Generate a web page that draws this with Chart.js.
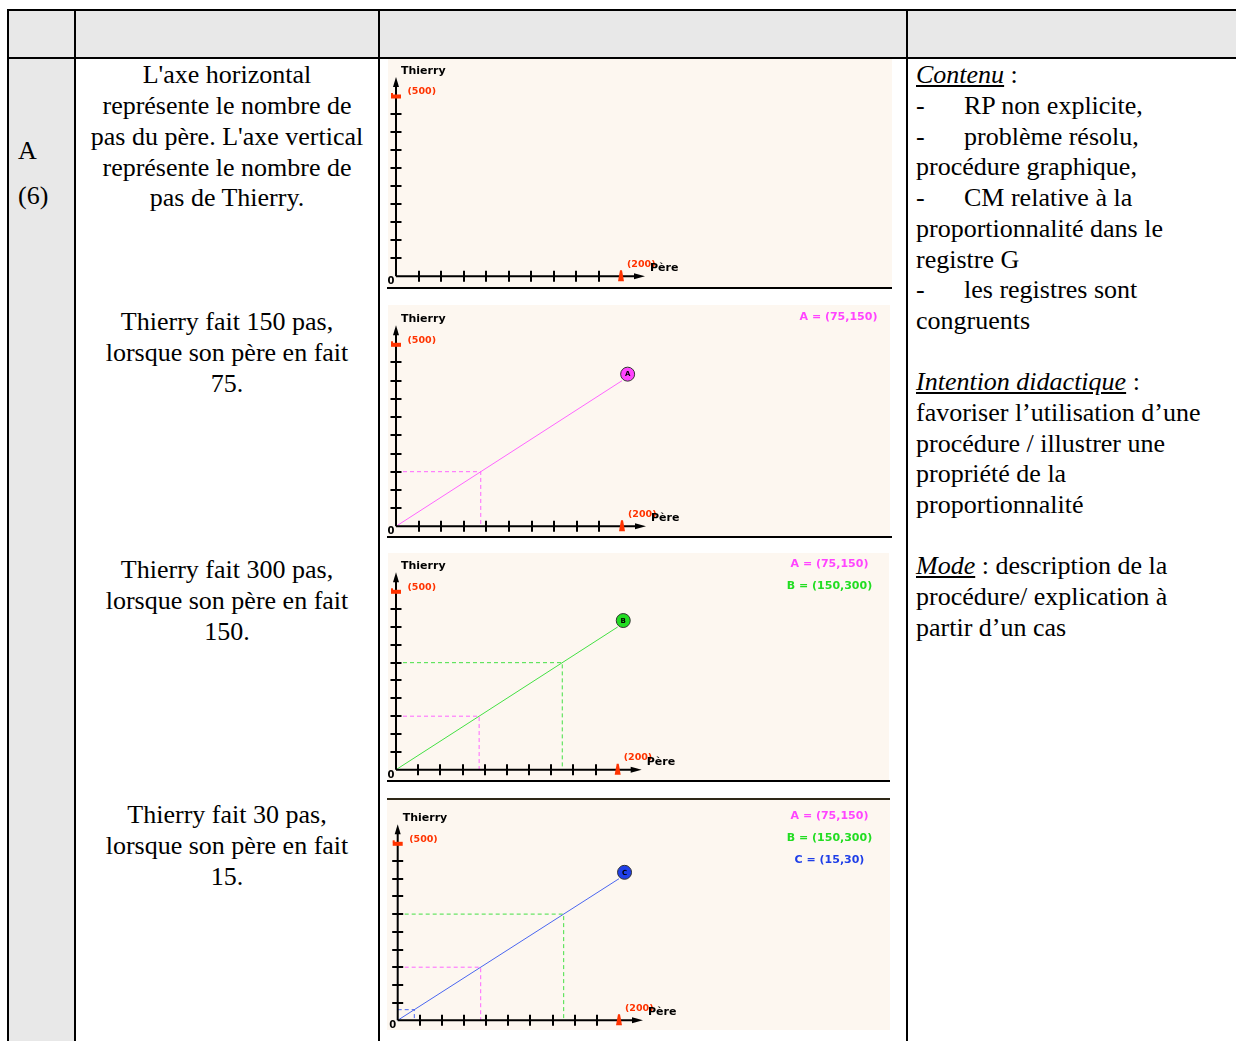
<!DOCTYPE html>
<html lang="fr">
<head>
<meta charset="utf-8">
<title>Thierry et son père</title>
<script src="https://cdn.jsdelivr.net/npm/chart.js@4.4.0/dist/chart.umd.min.js"></script>
<style>
  body { margin: 0; background: #fff; }
  #page { position: relative; width: 1236px; height: 1041px; overflow: hidden;
          font-family: "Liberation Serif", "Times New Roman", serif; font-size: 26px;
          line-height: 30.7px; color: #000; }
  .box { position: absolute; }
  .gris { background: #e8e8e8; }
  .noir { background: #000; }
  .txt { position: absolute; white-space: nowrap; }
  .centre { left: 76px; width: 302px; text-align: center; }
  .lig { position: relative; height: 30.7px; }
  .tab { position: absolute; left: 48px; }
  .souligne { font-style: italic; text-decoration: underline; }
  canvas { position: absolute; background: #fdf7f0; }
</style>
</head>
<body>
<div id="page">
  <!-- fonds gris : ligne d'en-tête + première colonne -->
  <div class="box gris" style="left:8px;top:10px;width:1228px;height:48px"></div>
  <div class="box gris" style="left:8px;top:58px;width:67px;height:983px"></div>

  <!-- bordures du tableau -->
  <div class="box noir" style="left:7px;top:9px;width:1229px;height:2px"></div>
  <div class="box noir" style="left:7px;top:57px;width:1229px;height:2px"></div>
  <div class="box noir" style="left:7px;top:9px;width:2px;height:1032px"></div>
  <div class="box noir" style="left:74px;top:9px;width:2px;height:1032px"></div>
  <div class="box noir" style="left:378px;top:9px;width:2px;height:1032px"></div>
  <div class="box noir" style="left:906px;top:9px;width:2px;height:1032px"></div>

  <!-- colonne 1 -->
  <div class="txt" style="left:18px;top:136px">A</div>
  <div class="txt" style="left:18px;top:181px">(6)</div>

  <!-- colonne 2 -->
  <div class="txt centre" style="top:60.4px">L'axe horizontal<br>représente le nombre de<br>pas du père. L'axe vertical<br>représente le nombre de<br>pas de Thierry.</div>
  <div class="txt centre" style="top:307.4px">Thierry fait 150 pas,<br>lorsque son père en fait<br>75.</div>
  <div class="txt centre" style="top:555.4px">Thierry fait 300 pas,<br>lorsque son père en fait<br>150.</div>
  <div class="txt centre" style="top:800.4px">Thierry fait 30 pas,<br>lorsque son père en fait<br>15.</div>

  <!-- colonne 3 : graphiques -->
  <canvas id="g0"></canvas>
  <canvas id="g1"></canvas>
  <canvas id="g2"></canvas>
  <canvas id="g3"></canvas>
  <div class="box noir" style="left:387px;top:287px;width:505px;height:2px"></div>
  <div class="box noir" style="left:387px;top:536px;width:505px;height:2px"></div>
  <div class="box noir" style="left:387px;top:780px;width:503px;height:2px"></div>
  <div class="box" style="left:387px;top:798px;width:503px;height:2px;background:#2e2818"></div>

  <!-- colonne 4 -->
  <div class="txt" style="left:916px;top:60.4px">
    <div class="lig"><span class="souligne">Contenu</span> :</div>
    <div class="lig">-<span class="tab">RP non explicite,</span></div>
    <div class="lig">-<span class="tab">problème résolu,</span></div>
    <div class="lig">procédure graphique,</div>
    <div class="lig">-<span class="tab">CM relative à la</span></div>
    <div class="lig">proportionnalité dans le</div>
    <div class="lig">registre G</div>
    <div class="lig">-<span class="tab">les registres sont</span></div>
    <div class="lig">congruents</div>
    <div class="lig"></div>
    <div class="lig"><span class="souligne">Intention didactique</span> :</div>
    <div class="lig">favoriser l’utilisation d’une</div>
    <div class="lig">procédure / illustrer une</div>
    <div class="lig">propriété de la</div>
    <div class="lig">proportionnalité</div>
    <div class="lig"></div>
    <div class="lig"><span class="souligne">Mode</span> : description de la</div>
    <div class="lig">procédure/ explication à</div>
    <div class="lig">partir d’un cas</div>
  </div>
</div>

<script>
// données
const xTicks = [20, 40, 60, 80, 100, 120, 140, 160, 180, 200];
const yTicks = [50, 100, 150, 200, 250, 300, 350, 400, 450, 500];
const xMax = 200;
const yMax = 500;
const pereSteps = [75, 150, 15];
const thierrySteps = [150, 300, 30];
const pointNames = ['A', 'B', 'C'];
const lineEnd = [200, 400];
const markerAt = [205, 418];
const shownPerPanel = [0, 1, 2, 3];

// couleurs
const labelColors = ['#ff44ff', '#22dd22', '#1f3fe8'];
const lineColors = ['#ff66ff', '#44e044', '#4a66f0'];
const rouge = '#ff3300';

// position de chaque petit graphique dans la page
const panels = [
    { id: 'g0', left: 388, top: 59,  w: 504, h: 228, ox: 8,    oy: 217.3, x200: 233,   y500: 37,   lx: 450, ly: 12 },
    { id: 'g1', left: 388, top: 305, w: 502, h: 231, ox: 7,    oy: 221.3, x200: 234,   y500: 39.3, lx: 450.5, ly: 11.7 },
    { id: 'g2', left: 388, top: 553, w: 501, h: 227, ox: 7,    oy: 216.7, x200: 229.7, y500: 38.3, lx: 441.5, ly: 10.7 },
    { id: 'g3', left: 387, top: 800, w: 503, h: 230, ox: 10.7, oy: 220.3, x200: 232,   y500: 43.3, lx: 442.5, ly: 16 }
];

// axes dessinés à la main façon logiciel, placés par les échelles de Chart.js
const axesPlugin = {
    id: 'axesMaison',
    afterDatasetsDraw(chart, args, opts) {
        const ctx = chart.ctx;
        const x = chart.scales.x, y = chart.scales.y;
        const x0 = x.getPixelForValue(0), y0 = y.getPixelForValue(0);
        const xEnd = x.getPixelForValue(xMax), yTop = y.getPixelForValue(yMax);
        ctx.save();
        ctx.strokeStyle = '#000';
        ctx.fillStyle = '#000';
        ctx.lineWidth = 2;
        ctx.beginPath();
        ctx.moveTo(x0, y0); ctx.lineTo(xEnd + 16, y0);
        ctx.moveTo(x0, y0); ctx.lineTo(x0, yTop - 12);
        ctx.stroke();
        // flèches
        ctx.beginPath();
        ctx.moveTo(xEnd + 24, y0); ctx.lineTo(xEnd + 13, y0 - 3); ctx.lineTo(xEnd + 13, y0 + 3); ctx.closePath();
        ctx.fill();
        ctx.beginPath();
        ctx.moveTo(x0, yTop - 19); ctx.lineTo(x0 - 3, yTop - 9); ctx.lineTo(x0 + 3, yTop - 9); ctx.closePath();
        ctx.fill();
        // graduations
        ctx.beginPath();
        xTicks.forEach(v => {
            if (v === xMax) return;
            const px = Math.round(x.getPixelForValue(v));
            ctx.moveTo(px, y0 - 5.5); ctx.lineTo(px, y0 + 5.5);
        });
        yTicks.forEach(v => {
            if (v === yMax) return;
            const py = Math.round(y.getPixelForValue(v));
            ctx.moveTo(x0 - 5.5, py); ctx.lineTo(x0 + 5.5, py);
        });
        ctx.stroke();
        // repères rouges des bornes
        ctx.fillStyle = rouge;
        ctx.fillRect(x0 - 5, yTop - 1.5, 10, 4);
        ctx.fillRect(x0 - 5, yTop - 3, 2, 2);
        ctx.beginPath();
        ctx.moveTo(xEnd - 1, y0 - 6); ctx.lineTo(xEnd + 1, y0 - 6);
        ctx.lineTo(xEnd + 3, y0 + 5); ctx.lineTo(xEnd - 3, y0 + 5); ctx.closePath();
        ctx.fill();
        // textes des axes
        ctx.textBaseline = 'middle';
        ctx.textAlign = 'left';
        ctx.font = 'bold 9.5px "DejaVu Sans"';
        ctx.fillText('(' + yMax + ')', x0 + 11.5, yTop - 4);
        ctx.fillText('(' + xMax + ')', xEnd + 6, y0 - 12);
        ctx.fillStyle = '#000';
        ctx.font = 'bold 11px "DejaVu Sans"';
        ctx.fillText('Thierry', x0 + 5, yTop - 25);
        ctx.fillText('Père', xEnd + 29, y0 - 8);
        ctx.font = 'bold 10px "DejaVu Sans"';
        ctx.textAlign = 'center';
        ctx.fillText('0', x0 - 5, y0 + 5.5);
        // coordonnées des points
        const n = opts.shown;
        ctx.font = 'bold 11px "DejaVu Sans"';
        for (let i = 0; i < n; i++) {
            ctx.fillStyle = labelColors[i];
            ctx.fillText(pointNames[i] + ' = (' + pereSteps[i] + ',' + thierrySteps[i] + ')', opts.lx, opts.ly + 22 * i);
        }
        // lettre dans le rond
        if (n > 0) {
            const meta = chart.getDatasetMeta(chart.data.datasets.length - 1);
            const pt = meta.data[0];
            ctx.fillStyle = '#000';
            ctx.font = 'bold 7px "DejaVu Sans"';
            ctx.fillText(pointNames[n - 1], pt.x, pt.y + 0.5);
        }
        ctx.restore();
    }
};

function construireDonnees(n) {
    const ds = [];
    for (let i = 0; i < n; i++) {
        ds.push({
            data: [{ x: 0, y: thierrySteps[i] }, { x: pereSteps[i], y: thierrySteps[i] }, { x: pereSteps[i], y: 0 }],
            showLine: true, borderColor: lineColors[i], borderWidth: 1, borderDash: [4, 3],
            pointRadius: 0, clip: false
        });
    }
    if (n > 0) {
        ds.push({
            data: [{ x: 0, y: 0 }, { x: lineEnd[0], y: lineEnd[1] }],
            showLine: true, borderColor: lineColors[n - 1], borderWidth: 1,
            pointRadius: 0, clip: false
        });
        ds.push({
            data: [{ x: markerAt[0], y: markerAt[1] }],
            pointRadius: 7, pointBackgroundColor: labelColors[n - 1],
            pointBorderColor: '#333', pointBorderWidth: 1, clip: false
        });
    }
    return ds;
}

panels.forEach((p, k) => {
    const cv = document.getElementById(p.id);
    cv.width = p.w; cv.height = p.h;
    cv.style.left = p.left + 'px'; cv.style.top = p.top + 'px';
    cv.style.width = p.w + 'px'; cv.style.height = p.h + 'px';
    new Chart(cv.getContext('2d'), {
        type: 'scatter',
        data: { datasets: construireDonnees(shownPerPanel[k]) },
        options: {
            responsive: false,
            animation: false,
            devicePixelRatio: 1,
            events: [],
            layout: { padding: { left: p.ox, right: p.w - p.x200, top: p.y500, bottom: p.h - p.oy } },
            plugins: {
                legend: { display: false },
                tooltip: { enabled: false },
                axesMaison: { shown: shownPerPanel[k], lx: p.lx, ly: p.ly }
            },
            scales: {
                x: { type: 'linear', min: 0, max: xMax, display: false },
                y: { type: 'linear', min: 0, max: yMax, display: false }
            }
        },
        plugins: [axesPlugin]
    });
});
</script>
</body>
</html>
